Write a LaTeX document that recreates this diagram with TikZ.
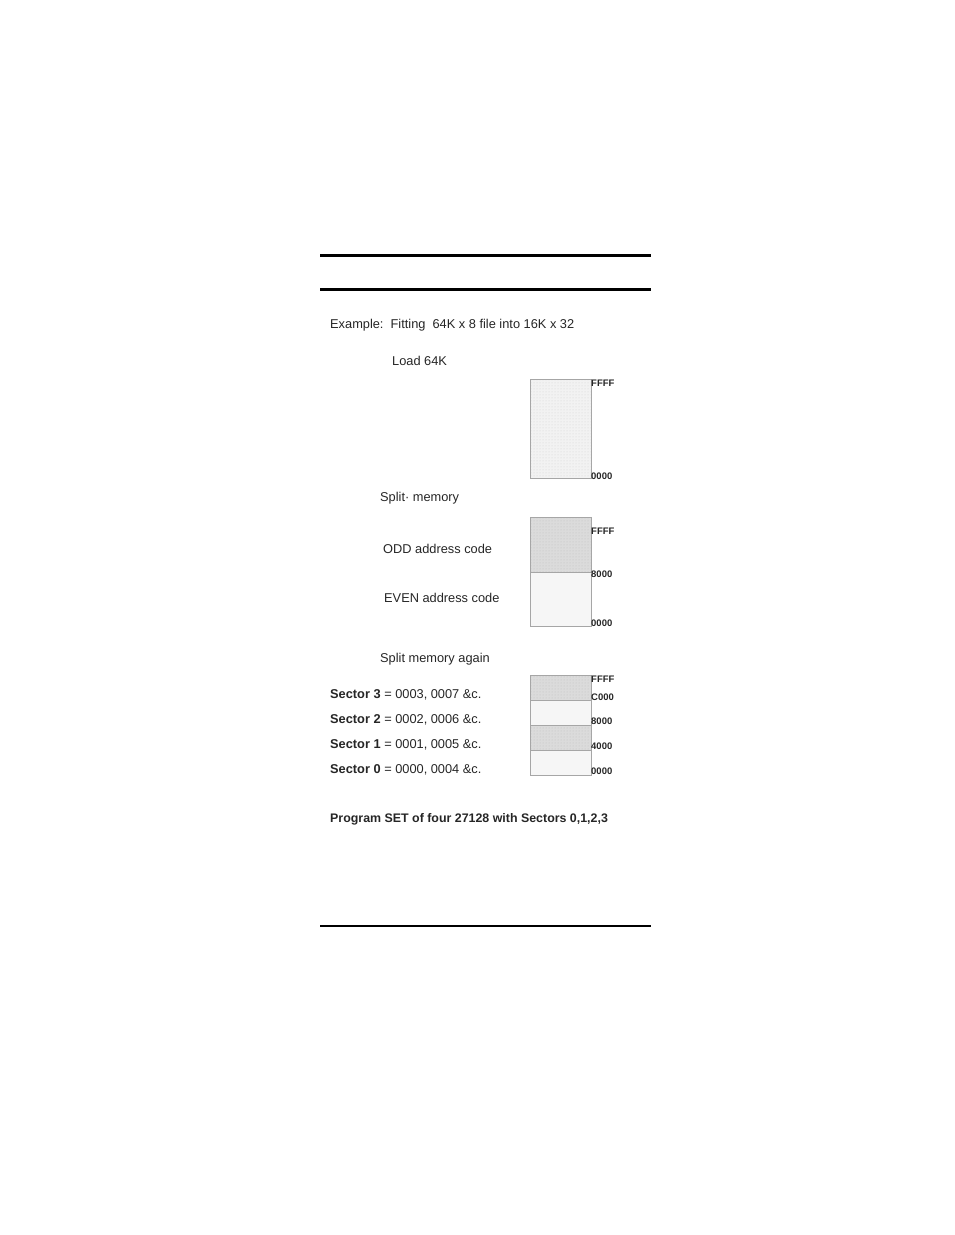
\documentclass[tikz,border=0pt]{standalone}
\usepackage{fontspec}
\setmainfont{Liberation Sans}
\usetikzlibrary{patterns}
\begin{document}
\begin{tikzpicture}[x=1pt,y=-1pt,
  txt/.style={anchor=base west,inner sep=0pt,font=\fontsize{12.8}{14}\selectfont,text=black!85},
  addr/.style={anchor=west,inner sep=0pt,font=\fontsize{9.5}{10}\selectfont\bfseries,text=black!85},
  rule/.style={line width=#1,black},
  mem/.style={draw=gray!70,line width=0.6pt},
  dark/.style={fill=gray!28},
  light/.style={fill=gray!7}]
\useasboundingbox (0,0) rectangle (954,1235);
\fill[white] (0,0) rectangle (954,1235);
% rules
\draw[rule=3pt] (320,255.5) -- (651,255.5);
\draw[rule=3pt] (320,289.5) -- (651,289.5);
\draw[rule=2pt] (320,926) -- (651,926);
% texts
\node[txt] (ex) at (330,328) {Example:\ \ Fitting\ \ 64K x 8 file into 16K x 32};
\node[txt] (load) at (392,365) {Load 64K};
\node[txt] (split) at (380,501) {Split· memory};
\node[txt] (odd) at (383,553) {ODD address code};
\node[txt] (even) at (384,602) {EVEN address code};
\node[txt] (again) at (380,662) {Split memory again};
\node[txt] (s3) at (330,698) {\textbf{Sector 3} = 0003, 0007 \&c.};
\node[txt] (s2) at (330,723) {\textbf{Sector 2} = 0002, 0006 \&c.};
\node[txt] (s1) at (330,748) {\textbf{Sector 1} = 0001, 0005 \&c.};
\node[txt] (s0) at (330,773) {\textbf{Sector 0} = 0000, 0004 \&c.};
\node[txt,font=\fontsize{12.4}{14}\selectfont\bfseries] (prog) at (330,822) {Program SET of four 27128 with Sectors 0,1,2,3};
% box 1
\fill[gray!10] (530,379) rectangle (591,478);
\fill[pattern=dots,pattern color=gray!35] (530,379) rectangle (591,478);
\draw[mem] (530,379) rectangle (591,478);
\node[addr] (a1f) at (591,383) {FFFF};
\node[addr] (a10) at (591,476) {0000};
% box 2
\fill[dark] (530,517) rectangle (591,572);
\fill[pattern=dots,pattern color=gray!50] (530,517) rectangle (591,572);
\fill[light] (530,572) rectangle (591,626);
\draw[mem] (530,517) rectangle (591,626);
\draw[mem] (530,572) -- (591,572);
\node[addr] (a2f) at (591,531) {FFFF};
\node[addr] (a28) at (591,574) {8000};
\node[addr] (a20) at (591,623) {0000};
% box 3
\fill[dark] (530,675) rectangle (591,700);
\fill[pattern=dots,pattern color=gray!50] (530,675) rectangle (591,700);
\fill[light] (530,700) rectangle (591,725);
\fill[dark] (530,725) rectangle (591,750);
\fill[pattern=dots,pattern color=gray!50] (530,725) rectangle (591,750);
\fill[light] (530,750) rectangle (591,775);
\draw[mem] (530,675) rectangle (591,775);
\draw[mem] (530,700) -- (591,700);
\draw[mem] (530,725) -- (591,725);
\draw[mem] (530,750) -- (591,750);
\node[addr] (a3f) at (591,679) {FFFF};
\node[addr] (a3c) at (591,697) {C000};
\node[addr] (a38) at (591,721) {8000};
\node[addr] (a34) at (591,746) {4000};
\node[addr] (a30) at (591,771) {0000};
\end{tikzpicture}
\end{document}
